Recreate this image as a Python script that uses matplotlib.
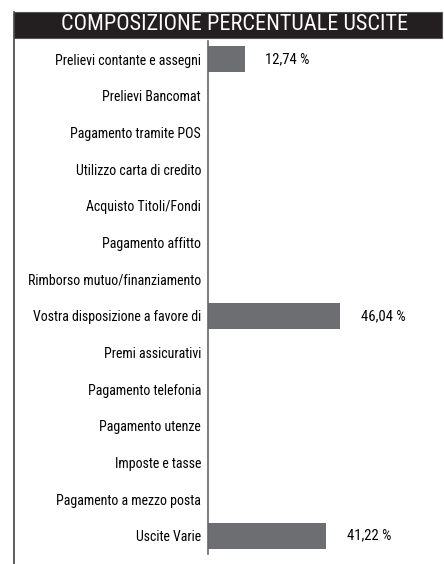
import matplotlib
matplotlib.use('Agg')
import matplotlib.pyplot as plt
from matplotlib.patches import Rectangle
from matplotlib.lines import Line2D

plt.rcParams['font.family'] = ['Roboto Condensed', 'DejaVu Sans']

categories = ["Prelievi contante e assegni", "Prelievi Bancomat", "Pagamento tramite POS",
              "Utilizzo carta di credito", "Acquisto Titoli/Fondi", "Pagamento affitto",
              "Rimborso mutuo/finanziamento", "Vostra disposizione a favore di",
              "Premi assicurativi", "Pagamento telefonia", "Pagamento utenze",
              "Imposte e tasse", "Pagamento a mezzo posta", "Uscite Varie"]
values = [12.74, 0, 0, 0, 0, 0, 0, 46.04, 0, 0, 0, 0, 0, 41.22]

W, H = 444, 564
fig = plt.figure(figsize=(W / 100, H / 100), dpi=100)

# header bar and left border
fig.patches.append(Rectangle((14 / W, 1 - 38 / H), 428 / W, 26 / H, transform=fig.transFigure,
                             facecolor='#231f20', edgecolor='#555555', lw=0.8))
fig.text(235 / W, 1 - 25 / H, "COMPOSIZIONE PERCENTUALE USCITE", color='white',
         fontsize=16, ha='center', va='center')
fig.lines.append(Line2D([14 / W, 14 / W], [0, 1 - 12 / H], transform=fig.transFigure,
                        color='#444444', lw=1.2))

ax = fig.add_axes([208 / W, 1 - 554 / H, (W - 208) / W, 513 / H])
y = list(range(len(categories)))
bars = ax.barh(y, values, height=0.71, color='#6d6e71')
ax.set_ylim(len(categories) - 0.5, -0.5)
ax.set_xlim(0, (W - 208) / 2.87)
ax.set_yticks(y)
ax.set_yticklabels(categories, fontsize=10)
ax.tick_params(axis='y', length=0, pad=5)
ax.set_xticks([])
for s in ['top', 'right', 'bottom']:
    ax.spines[s].set_visible(False)
ax.spines['left'].set_color('#666666')
ax.spines['left'].set_linewidth(1.2)

for yi, v in zip(y, values):
    if v > 0:
        ax.annotate(f"{v:.2f} %".replace('.', ','), (v, yi), xytext=(15, 0),
                    textcoords='offset points', va='center', ha='left', fontsize=10.5)

fig.savefig('out.png', dpi=100)
